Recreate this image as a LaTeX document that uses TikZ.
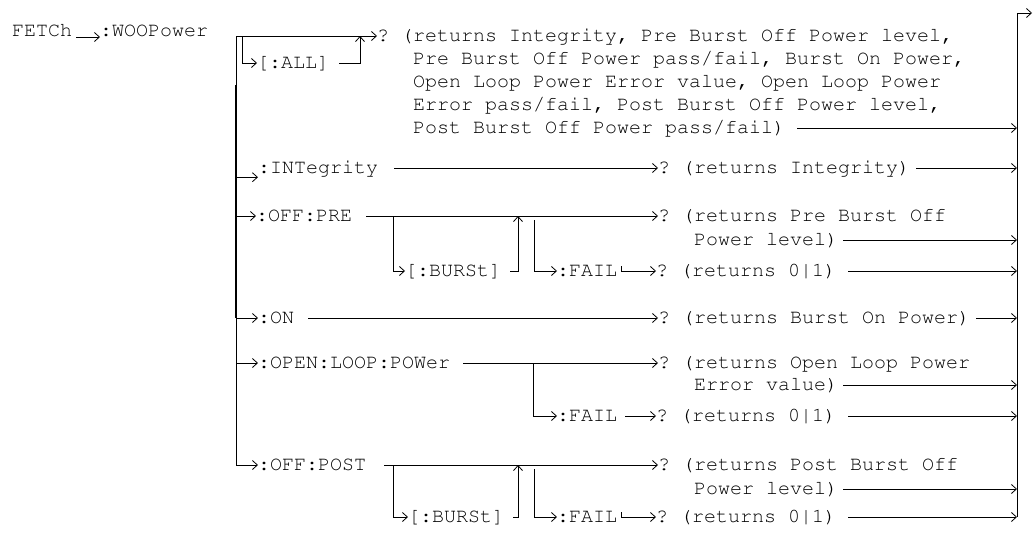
\documentclass[tikz,border=0pt]{standalone}
\usepackage[T1]{fontenc}
\usetikzlibrary{arrows.meta}
\newcommand{\synfont}{\fontencoding{T1}\fontfamily{pcr}\fontsize{20}{23}\selectfont\frenchspacing}
\tikzset{
  syn/.style={font=\synfont, inner sep=0pt, anchor=west, text height=14pt, text depth=4pt},
  wire/.style={line width=0.8pt},
  arr/.style={wire, -{Straight Barb[length=5pt,width=9pt]}},
}
\begin{document}
\begin{tikzpicture}[x=1pt,y=-1pt]
\useasboundingbox (0,0) rectangle (1033,533);

% command head
\node[syn] (fetch) at (12,31) {FETCh};
\node[syn] (woo) at (100,31) {:WOOPower};
\draw[arr] ([xshift=4pt,yshift=-6pt]fetch.east) -- ([yshift=-6pt]woo.west);

\coordinate (t0) at (236,36);
\coordinate (bus) at (1017,13);
\coordinate (out) at (1032,13);

% query with all results
\node[syn] (all) at (257,63) {[:ALL]};
\node[syn] (qall) at (377,36) {? (returns Integrity, Pre Burst Off Power level,};
\node[syn] (qall2) at (413,59) {Pre Burst Off Power pass/fail, Burst On Power,};
\node[syn] (qall3) at (413,82) {Open Loop Power Error value, Open Loop Power};
\node[syn] (qall4) at (413,105) {Error pass/fail, Post Burst Off Power level,};
\node[syn] (qall5) at (413,128) {Post Burst Off Power pass/fail)};
\coordinate (jall) at (360,36);
\draw[arr] (t0) -- (qall.west);
\draw[arr] ([xshift=6pt]t0) |- (all.west);
\draw[arr] ([xshift=10pt]all.east) -| (jall);

% branch nodes
\node[syn] (intg) at (258,168) {:INTegrity};
\node[syn] (pre) at (256,216) {:OFF:PRE};
\node[syn] (on) at (258,318) {:ON};
\node[syn] (open) at (258,363) {:OPEN:LOOP:POWer};
\node[syn] (post) at (258,465) {:OFF:POST};

\draw[arr] (t0) |- (post.west);
\draw[line width=2pt] ([yshift=-49pt]t0) -- (t0 |- on.west);
\draw[arr] (t0 |- intg.south west) -- (intg.south west);
\draw[arr] (t0 |- pre.west) -- (pre.west);
\draw[arr] (t0 |- on.west) -- (on.west);
\draw[arr] (t0 |- open.west) -- (open.west);

% integrity
\node[syn] (qintg) at (658,168) {? (returns Integrity)};
\draw[arr] ([xshift=16pt]intg.east) -- (qintg.west);

% off pre
\node[syn] (qpre) at (658,216) {? (returns Pre Burst Off};
\node[syn] (qpre2) at (694,240) {Power level)};
\node[syn] (burst1) at (405,271) {[:BURSt]};
\node[syn] (fail1) at (557,271) {:FAIL};
\node[syn] (qf1) at (656,271) {? (returns 0|1)};
\coordinate (bpre) at (393,216);
\coordinate (jpre) at (518,216);
\draw[arr] ([xshift=14pt]pre.east) -- (qpre.west);
\draw[arr] (bpre) |- (burst1.west);
\draw[arr] ([xshift=9pt]burst1.east) -| (jpre);
\draw[arr] ([xshift=16pt,yshift=-4pt]jpre) |- (fail1.west);
\draw[arr] ([xshift=4pt,yshift=5pt]fail1.east) |- (qf1.west);

% on
\node[syn] (qon) at (658,318) {? (returns Burst On Power)};
\draw[arr] ([xshift=14pt]on.east) -- (qon.west);

% open loop power
\node[syn] (qopen) at (658,363) {? (returns Open Loop Power};
\node[syn] (qopen2) at (694,385) {Error value)};
\node[syn] (fail2) at (557,416) {:FAIL};
\node[syn] (qf2) at (656,416) {? (returns 0|1)};
\coordinate (jopen) at (533,363);
\draw[arr] ([xshift=13pt]open.east) -- (qopen.west);
\draw[arr] (jopen) |- (fail2.west);
\draw[arr] ([xshift=8pt]fail2.east) -- (qf2.west);

% off post
\node[syn] (qpost) at (658,465) {? (returns Post Burst Off};
\node[syn] (qpost2) at (694,489) {Power level)};
\node[syn] (burst2) at (408,517) {[:BURSt]};
\node[syn] (fail3) at (557,517) {:FAIL};
\node[syn] (qf3) at (656,517) {? (returns 0|1)};
\coordinate (bpost) at (393,465);
\coordinate (jpost) at (518,465);
\draw[arr] ([xshift=18pt]post.east) -- (qpost.west);
\draw[arr] (bpost) |- (burst2.west);
\draw[arr] ([xshift=9pt]burst2.east) -| (jpost);
\draw[arr] ([xshift=16pt,yshift=-4pt]jpost) |- (fail3.west);
\draw[arr] ([xshift=4pt,yshift=5pt]fail3.east) |- (qf3.west);

% right-hand bus
\draw[wire] (bus |- qf3.west) -- (bus);
\draw[arr] (bus) -- (out);
\draw[arr] ([xshift=12pt]qall5.east) -- (qall5.east -| bus);
\draw[arr] ([xshift=6pt]qintg.east) -- (qintg.east -| bus);
\draw[arr] ([xshift=5pt]qpre2.east) -- (qpre2.east -| bus);
\draw[arr] ([xshift=12pt]qf1.east) -- (qf1.east -| bus);
\draw[arr] ([xshift=6pt]qon.east) -- (qon.east -| bus);
\draw[arr] ([xshift=5pt]qopen2.east) -- (qopen2.east -| bus);
\draw[arr] ([xshift=12pt]qf2.east) -- (qf2.east -| bus);
\draw[arr] ([xshift=5pt]qpost2.east) -- (qpost2.east -| bus);
\draw[arr] ([xshift=12pt]qf3.east) -- (qf3.east -| bus);
\end{tikzpicture}
\end{document}
